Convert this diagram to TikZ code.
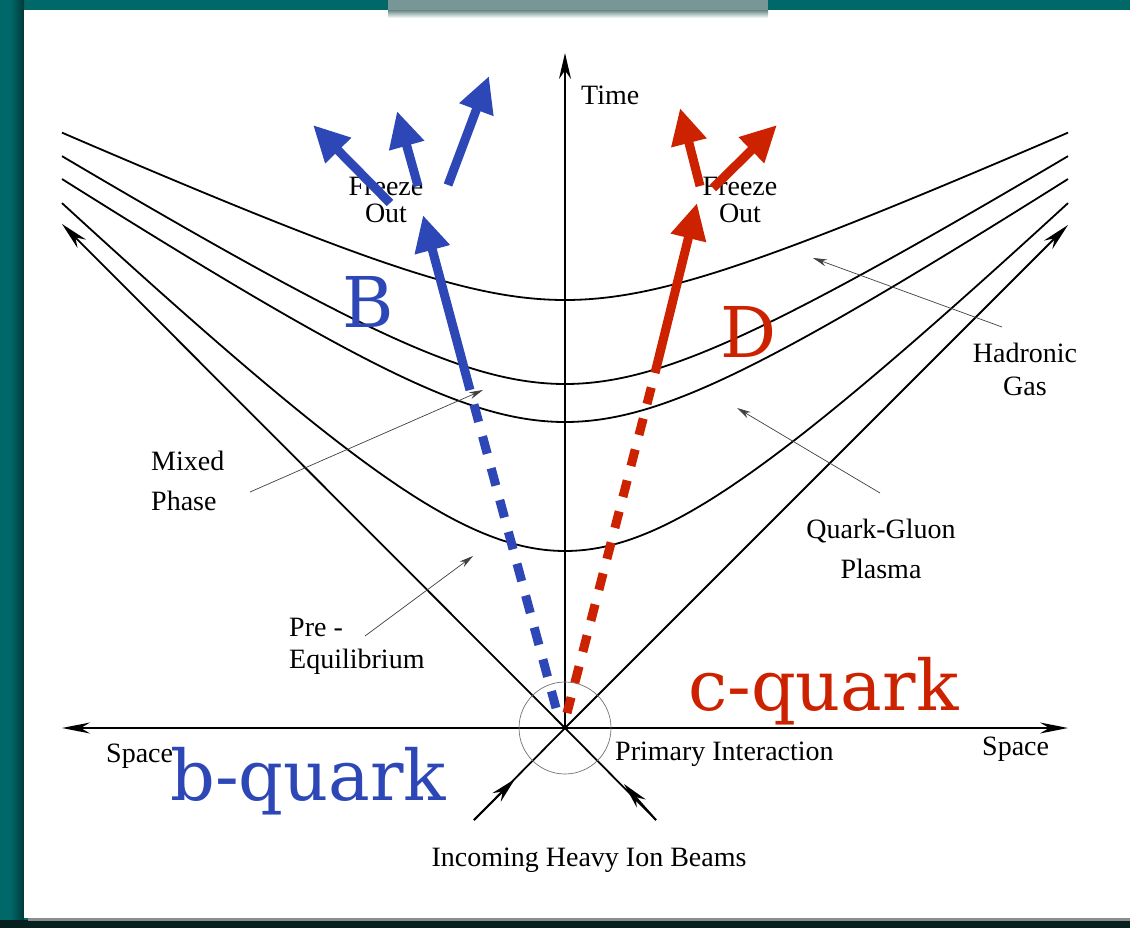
\documentclass[tikz,border=0pt]{standalone}
\usepackage{fontspec}
\setmainfont{Liberation Serif}
\newfontfamily\qfont{DejaVu Serif}
\usetikzlibrary{arrows.meta}
\definecolor{teal0}{HTML}{006868}
\definecolor{tealdark}{HTML}{062020}
\definecolor{qblue}{HTML}{2D47B7}
\definecolor{qred}{HTML}{CC2200}
\definecolor{stripgrey}{HTML}{789696}
\begin{document}
\begin{tikzpicture}[x=1pt,y=-1pt,
  axis/.style={line width=1.8pt, black},
  curve/.style={line width=1.8pt, black},
  tipbig/.style={-{Stealth[length=28pt,width=12pt]}},
  pointer/.style={line width=0.7pt, black!75, -{Stealth[length=14pt,width=7pt]}},
  ring/.style={line width=0.7pt, black!55},
  lbl/.style={font=\fontsize{28}{30}\selectfont, inner sep=0pt},
  qtxt/.style={font=\qfont\fontsize{70}{80}\selectfont, inner sep=0pt},
  bluearrow/.style={draw=qblue, line width=9pt, -{Triangle[length=36pt,width=34pt]}},
  redarrow/.style={draw=qred, line width=9pt, -{Triangle[length=36pt,width=34pt]}},
  bluedash/.style={draw=qblue, line width=9pt, dash pattern=on 18pt off 15pt, dash phase=18pt},
  reddash/.style={draw=qred, line width=9pt, dash pattern=on 17pt off 15pt, dash phase=17pt}]
\useasboundingbox (0,0) rectangle (1130,928);
% background
\fill[teal0] (0,0) rectangle (1130,928);
\shade[left color=teal0, right color=teal0!55!black] (10,0) rectangle (24,928);
\fill[tealdark] (0,920) rectangle (1130,928);
\fill[black!45] (28,917) rectangle (1130,921);
\fill[white] (24,10) rectangle (1130,918);
\fill[stripgrey] (388,0) rectangle (768,11);
\shade[top color=stripgrey, bottom color=white] (388,11) rectangle (768,18);
% coordinates
\coordinate (O) at (565,728);
\coordinate (SL) at (62,728);
\coordinate (SR) at (1068,728);
\coordinate (T) at (565,53);
\coordinate (LC1) at (62,224);
\coordinate (LC2) at (1068,225);
\coordinate (BL) at (474,820);
\coordinate (BR) at (656,820);
\coordinate (BLt) at (515,779);
\coordinate (BRt) at (624,784);
% curves
\draw[curve] plot[domain=-503:503,samples=121,smooth] ({565+\x},{728-358.6-100*sqrt(0.694^2+(0.45*\x/100)^2)});
\draw[curve] plot[domain=-503:503,samples=121,smooth] ({565+\x},{728-244.5-100*sqrt(0.995^2+(0.62*\x/100)^2)});
\draw[curve] plot[domain=-503:503,samples=121,smooth] ({565+\x},{728-200.7-100*sqrt(1.053^2+(0.66*\x/100)^2)});
\draw[curve] plot[domain=-503:503,samples=121,smooth] ({565+\x},{728-8.8-100*sqrt(1.682^2+(0.97*\x/100)^2)});
% axes
\draw[axis, {Stealth[length=28pt,width=11pt]}-{Stealth[length=28pt,width=11pt]}] (SL) -- (SR);
\draw[axis, -{Stealth[length=26pt,width=12pt]}] (O) -- (T);
\draw[axis, tipbig] (O) -- (LC1);
\draw[axis, tipbig] (O) -- (LC2);
\draw[axis] (BL) -- (O);
\draw[axis] (BR) -- (O);
\draw[axis, -{Stealth[length=26pt,width=12pt]}] (BL) -- (BLt);
\draw[axis, -{Stealth[length=26pt,width=12pt]}] (BR) -- (BRt);
\draw[ring] (O) circle [radius=46];
% labels (multi-line nodes: base = last line)
\node[lbl, anchor=base west] (time) at (581,105) {Time};
\node[lbl, font=\fontsize{28}{27}\selectfont, align=center, anchor=base] (fzL) at (386,223) {Freeze\\Out};
\node[lbl, font=\fontsize{28}{27}\selectfont, align=center, anchor=base] (fzR) at (740,223) {Freeze\\Out};
\node[lbl, font=\fontsize{28}{40}\selectfont, align=left, anchor=base west] (mix) at (151,510) {Mixed\\Phase};
\node[lbl, font=\fontsize{28}{32}\selectfont, align=left, anchor=base west] (pre) at (289,668) {Pre -\\Equilibrium};
\node[lbl, font=\fontsize{28}{33}\selectfont, align=center, anchor=base] (had) at (1025,395) {Hadronic\\Gas};
\node[lbl, font=\fontsize{28}{40}\selectfont, align=center, anchor=base] (qgp) at (881,578) {Quark-Gluon\\Plasma};
\node[lbl, anchor=base west] (prim) at (615,760) {Primary Interaction};
\node[lbl, anchor=base west] (spR) at (982,755) {Space};
\node[lbl, anchor=base west] (spL) at (106,762) {Space};
\node[lbl, anchor=base] (beams) at (589,866) {Incoming Heavy Ion Beams};
% pointers
\coordinate (mixS) at (250,492); \coordinate (mixT) at (483,390);
\coordinate (preS) at (365,636); \coordinate (preT) at (473,556);
\coordinate (hadS) at (1002,327); \coordinate (hadT) at (813,258);
\coordinate (qgpS) at (880,493); \coordinate (qgpT) at (737,408);
\draw[pointer] (mixS) -- (mixT);
\draw[pointer] (preS) -- (preT);
\draw[pointer] (hadS) -- (hadT);
\draw[pointer] (qgpS) -- (qgpT);
% quark texts
\node[qtxt, text=qblue, anchor=base west] (bq) at (170,800) {b-quark};
\node[qtxt, text=qred, anchor=base west] (cq) at (688,710) {c-quark};
\node[qtxt, text=qblue, anchor=base west] (Bh) at (342,327) {B};
\node[qtxt, text=qred, anchor=base west] (Dm) at (720,357) {D};
% coloured tracks
\coordinate (Bs) at (556,708); \coordinate (Bm) at (470,390); \coordinate (Bt) at (423,215);
\coordinate (Rs) at (567,713); \coordinate (Rm) at (655,373); \coordinate (Rt) at (697,203);
\draw[bluedash] (Bm) -- (Bs);
\draw[bluearrow] (Bm) -- (Bt);
\draw[reddash] (Rm) -- (Rs);
\draw[redarrow] (Rm) -- (Rt);
\coordinate (b1s) at (390,203); \coordinate (b1t) at (313,125);
\coordinate (b2s) at (418,186); \coordinate (b2t) at (397,111);
\coordinate (b3s) at (448,185); \coordinate (b3t) at (489,76);
\coordinate (r1s) at (700,186); \coordinate (r1t) at (680,108);
\coordinate (r2s) at (713,188); \coordinate (r2t) at (777,125);
\draw[bluearrow] (b1s) -- (b1t);
\draw[bluearrow] (b2s) -- (b2t);
\draw[bluearrow] (b3s) -- (b3t);
\draw[redarrow] (r1s) -- (r1t);
\draw[redarrow] (r2s) -- (r2t);
\end{tikzpicture}
\end{document}
